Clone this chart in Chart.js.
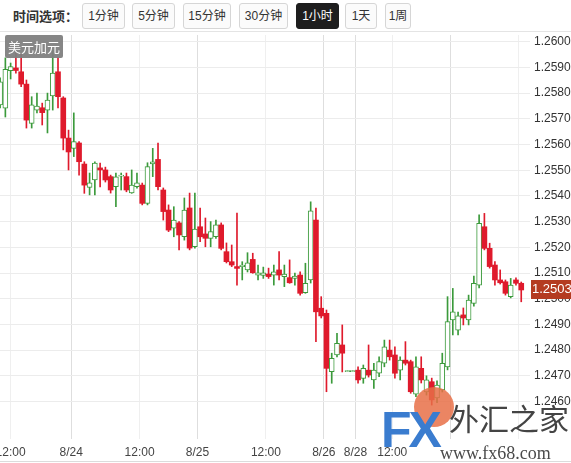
<!DOCTYPE html>
<html><head><meta charset="utf-8">
<script src="https://cdn.jsdelivr.net/npm/chart.js@4/dist/chart.umd.min.js"></script>
<style>
html,body{margin:0;padding:0;background:#fff;width:571px;height:463px;overflow:hidden;font-family:"Liberation Sans","Noto Sans CJK SC",sans-serif;}
#wrap{position:relative;width:571px;height:463px;}
.bar{position:absolute;left:0;top:0;width:571px;height:31px;border-bottom:1px solid #e4e4e4;}
.ttl{position:absolute;left:13px;top:7px;font-weight:bold;font-size:13px;color:#333;line-height:18px;font-family:"Noto Sans CJK SC",sans-serif;}
.btn{position:absolute;top:3px;height:26px;box-sizing:border-box;border:1px solid #d6d6d6;border-radius:3px;background:#fbfbfb;font-size:12px;color:#333;text-align:center;line-height:24px;font-family:"Liberation Sans","Noto Sans CJK SC",sans-serif;}
.btn.on{background:#1e1e1e;color:#fff;border-color:#1e1e1e;}
#cv{position:absolute;left:0;top:33px;}
.sym{position:absolute;left:5px;top:35px;width:58px;height:23px;background:rgba(128,128,128,0.95);color:#fff;font-size:13px;line-height:23px;text-align:center;border-radius:2px;font-family:"Noto Sans CJK SC",sans-serif;}
.bline{position:absolute;left:0;top:461px;width:571px;height:1px;background:#dcdcdc;}
.wm-c{position:absolute;left:414px;top:387px;width:40px;height:40px;border-radius:50%;background:rgba(232,112,72,0.85);}
.wm-fx{position:absolute;left:381px;top:402px;font:bold 50px "Liberation Sans",sans-serif;color:#3a7ccf;letter-spacing:-3px;line-height:56px;}
.wm-cn{position:absolute;left:449px;top:397px;font-size:30px;color:#444;font-family:"Noto Sans CJK SC",sans-serif;line-height:40px;}
.wm-url{position:absolute;left:440px;top:443px;font-size:18px;color:#4a4a4a;font-family:"Liberation Serif",serif;line-height:20px;}
</style></head>
<body><div id="wrap">
<div class="bar">
<div class="ttl">时间选项：</div>
<div class="btn" style="left:82px;width:43px">1分钟</div>
<div class="btn" style="left:132px;width:43px">5分钟</div>
<div class="btn" style="left:183px;width:48px">15分钟</div>
<div class="btn" style="left:239px;width:49px">30分钟</div>
<div class="btn on" style="left:296px;width:43px">1小时</div>
<div class="btn" style="left:345px;width:32px">1天</div>
<div class="btn" style="left:385px;width:26px">1周</div>
</div>
<canvas id="cv" width="571" height="428"></canvas>
<div class="sym">美元加元</div>
<div class="bline"></div>
<div class="wm-c"></div>
<div class="wm-fx">FX</div>
<div class="wm-cn">外汇之家</div>
<div class="wm-url">www.fx68.com</div>
</div>
<script>
const opens = [1.25754,1.25741,1.25887,1.25898,1.25883,1.25835,1.25682,1.25734,1.25743,1.25734,
1.25789,1.25883,1.25781,1.25625,1.25585,1.25606,1.25524,1.25433,1.25462,1.25509,
1.25501,1.25475,1.25436,1.25477,1.25475,1.25412,1.25436,1.25442,1.25371,1.25524,
1.25542,1.25423,1.25345,1.25274,1.25295,1.25241,1.25353,1.25202,1.25280,1.25252,
1.25235,1.25241,1.25287,1.25183,1.25144,1.25125,1.25125,1.25112,1.25153,1.25092,
1.25091,1.25096,1.25092,1.25112,1.25086,1.25082,1.25079,1.25092,1.25023,1.25073,
1.25306,1.24963,1.24943,1.24716,1.24781,1.24820,1.24716,1.24716,1.24722,1.24690,
1.24722,1.24684,1.24710,1.24749,1.24800,1.24781,1.24722,1.24761,1.24755,1.24629,
1.24729,1.24637,1.24677,1.24614,1.24645,1.24735,1.24917,1.24878,1.24937,1.24917,
1.24982,1.25053,1.25280,1.25196,1.25131,1.25073,1.25066,1.25008,1.25073,1.25060];
const closes = [1.25844,1.25893,1.25903,1.25888,1.25835,1.25695,1.25754,1.25750,1.25724,1.25773,
1.25878,1.25786,1.25625,1.25571,1.25611,1.25533,1.25442,1.25451,1.25528,1.25501,
1.25462,1.25423,1.25474,1.25481,1.25423,1.25442,1.25451,1.25371,1.25514,1.25533,
1.25436,1.25339,1.25267,1.25306,1.25248,1.25345,1.25197,1.25271,1.25241,1.25235,
1.25261,1.25287,1.25196,1.25144,1.25131,1.25118,1.25131,1.25140,1.25101,1.25101,
1.25101,1.25086,1.25105,1.25092,1.25096,1.25062,1.25088,1.25021,1.25060,1.25342,
1.24949,1.24933,1.24729,1.24768,1.24826,1.24788,1.24716,1.24716,1.24684,1.24729,
1.24703,1.24722,1.24755,1.24813,1.24774,1.24710,1.24761,1.24749,1.24638,1.24735,
1.24684,1.24684,1.24606,1.24664,1.24749,1.24911,1.24949,1.24933,1.24925,1.24995,
1.25060,1.25293,1.25196,1.25125,1.25073,1.25062,1.25021,1.25053,1.25060,1.25034];
const highs = [1.25859,1.25937,1.25917,1.25956,1.25952,1.25851,1.25786,1.25800,1.25761,1.25800,
1.25968,1.25937,1.25786,1.25656,1.25723,1.25611,1.25533,1.25489,1.25533,1.25528,
1.25512,1.25481,1.25489,1.25489,1.25489,1.25501,1.25489,1.25450,1.25529,1.25585,
1.25606,1.25431,1.25365,1.25358,1.25300,1.25392,1.25411,1.25411,1.25353,1.25314,
1.25300,1.25306,1.25295,1.25217,1.25209,1.25333,1.25144,1.25179,1.25177,1.25131,
1.25123,1.25119,1.25131,1.25183,1.25131,1.25151,1.25100,1.25105,1.25138,1.25377,
1.25353,1.25008,1.24956,1.24788,1.24865,1.24898,1.24716,1.24716,1.24735,1.24742,
1.24820,1.24749,1.24774,1.24839,1.24839,1.24813,1.24774,1.24833,1.24761,1.24774,
1.24774,1.24700,1.24691,1.24680,1.24788,1.25008,1.25040,1.24948,1.24964,1.25014,
1.25088,1.25326,1.25332,1.25216,1.25144,1.25112,1.25073,1.25079,1.25081,1.25065];
const lows = [1.25742,1.25707,1.25855,1.25878,1.25825,1.25664,1.25664,1.25723,1.25676,1.25645,
1.25734,1.25742,1.25579,1.25501,1.25553,1.25481,1.25410,1.25404,1.25404,1.25435,
1.25454,1.25411,1.25358,1.25423,1.25416,1.25410,1.25430,1.25365,1.25365,1.25475,
1.25423,1.25306,1.25261,1.25241,1.25190,1.25228,1.25190,1.25197,1.25222,1.25202,
1.25202,1.25235,1.25190,1.25139,1.25125,1.25053,1.25073,1.25104,1.25099,1.25073,
1.25079,1.25079,1.25053,1.25073,1.25047,1.25060,1.25053,1.25014,1.25021,1.25061,
1.24833,1.24925,1.24638,1.24671,1.24773,1.24715,1.24716,1.24716,1.24671,1.24671,
1.24695,1.24651,1.24697,1.24735,1.24761,1.24691,1.24684,1.24742,1.24632,1.24619,
1.24672,1.24625,1.24586,1.24595,1.24637,1.24723,1.24859,1.24859,1.24898,1.24898,
1.24971,1.25042,1.25190,1.25119,1.25053,1.25057,1.25014,1.25003,1.25053,1.24988];
const xTickPos = [2,13.5,26.5,37.5,50.5,61.5,67.5,74.5,85.5,98.5];
const xTickLabels = ["12:00","8/24","12:00","8/25","12:00","8/26","8/28","12:00","",""];
const xTickIsDay = [0,1,0,1,0,1,1,0,1,0];
const yTicks = [1.2460,1.2470,1.2480,1.2490,1.2500,1.2510,1.2520,1.2530,1.2540,1.2550,1.2560,1.2570,1.2580,1.2590,1.2600];

const UP = '#3b9a3b', DOWN = '#df1a2c';
const isUp = closes.map((c,i)=> c >= opens[i]);

const priceTag = {
  id:'priceTag',
  afterDraw(chart){
    const {ctx, chartArea, scales:{y}} = chart;
    const v = closes[closes.length-1];
    const py = y.getPixelForValue(v);
    ctx.save();
    ctx.fillStyle = '#b43b21';
    ctx.fillRect(chartArea.right+1, Math.round(py)-10, chart.width-chartArea.right-1, 19);
    ctx.fillStyle = '#fff';
    ctx.font = '13px "Liberation Sans", Arial, sans-serif';
    ctx.textBaseline = 'middle';
    ctx.textAlign = 'left';
    ctx.fillText(v.toFixed(4), chartArea.right+2, Math.round(py)-0.5);
    ctx.restore();
  }
};

new Chart(document.getElementById('cv'), {
  type:'bar',
  data:{
    datasets:[
      {
        label:'body',
        data: opens.map((o,i)=>({x:i, y:[o, closes[i]]})),
        backgroundColor: isUp.map(u=> u ? '#ffffff' : DOWN),
        borderColor: isUp.map(u=> u ? UP : DOWN),
        borderWidth: isUp.map(u=> u ? 1 : 0),
        borderSkipped: false,
        barThickness: 5,
        minBarLength: 1,
        grouped: false
      },
      {
        label:'wick',
        data: lows.map((l,i)=>({x:i, y:[l, highs[i]]})),
        backgroundColor: isUp.map(u=> u ? UP : DOWN),
        borderWidth: 0,
        barThickness: 1,
        minBarLength: 1,
        grouped: false
      }
    ]
  },
  options:{
    responsive:false,
    animation:false,
    devicePixelRatio:1,
    layout:{padding:{top:2,left:0,right:0,bottom:0}},
    plugins:{legend:{display:false},tooltip:{enabled:false}},
    scales:{
      x:{
        type:'linear',
        offset:false,
        min:-0.019, max:100.665,
        border:{display:false},
        grid:{
          offset:false,
          drawTicks:false,
          color:(c)=> (c.index!==undefined && xTickIsDay[c.index]) ? '#dedede' : '#efefef'
        },
        afterBuildTicks:(s)=>{ s.ticks = xTickPos.map(v=>({value:v})); },
        afterFit:(s)=>{ s.height = 22; s.paddingLeft = 0; s.paddingRight = 0; },
        ticks:{
          autoSkip:false, maxRotation:0, minRotation:0, padding:6,
          color:'#444',
          font:{family:'"Liberation Sans", Arial, sans-serif', size:12},
          callback:(v,i)=> xTickLabels[i]
        }
      },
      y:{
        type:'linear',
        position:'right',
        min:1.244541, max:1.260261,
        border:{display:false},
        grid:{drawTicks:false, color:'#ececec'},
        afterBuildTicks:(s)=>{ s.ticks = yTicks.map(v=>({value:v})); },
        afterFit:(s)=>{ s.width = 41; s.paddingTop = 0; s.paddingBottom = 0; },
        ticks:{
          padding:4, color:'#333',
          font:{family:'"Liberation Sans", Arial, sans-serif', size:12},
          callback:(v)=> Number(v).toFixed(4)
        }
      }
    }
  },
  plugins:[priceTag]
});
</script>
</body></html>
